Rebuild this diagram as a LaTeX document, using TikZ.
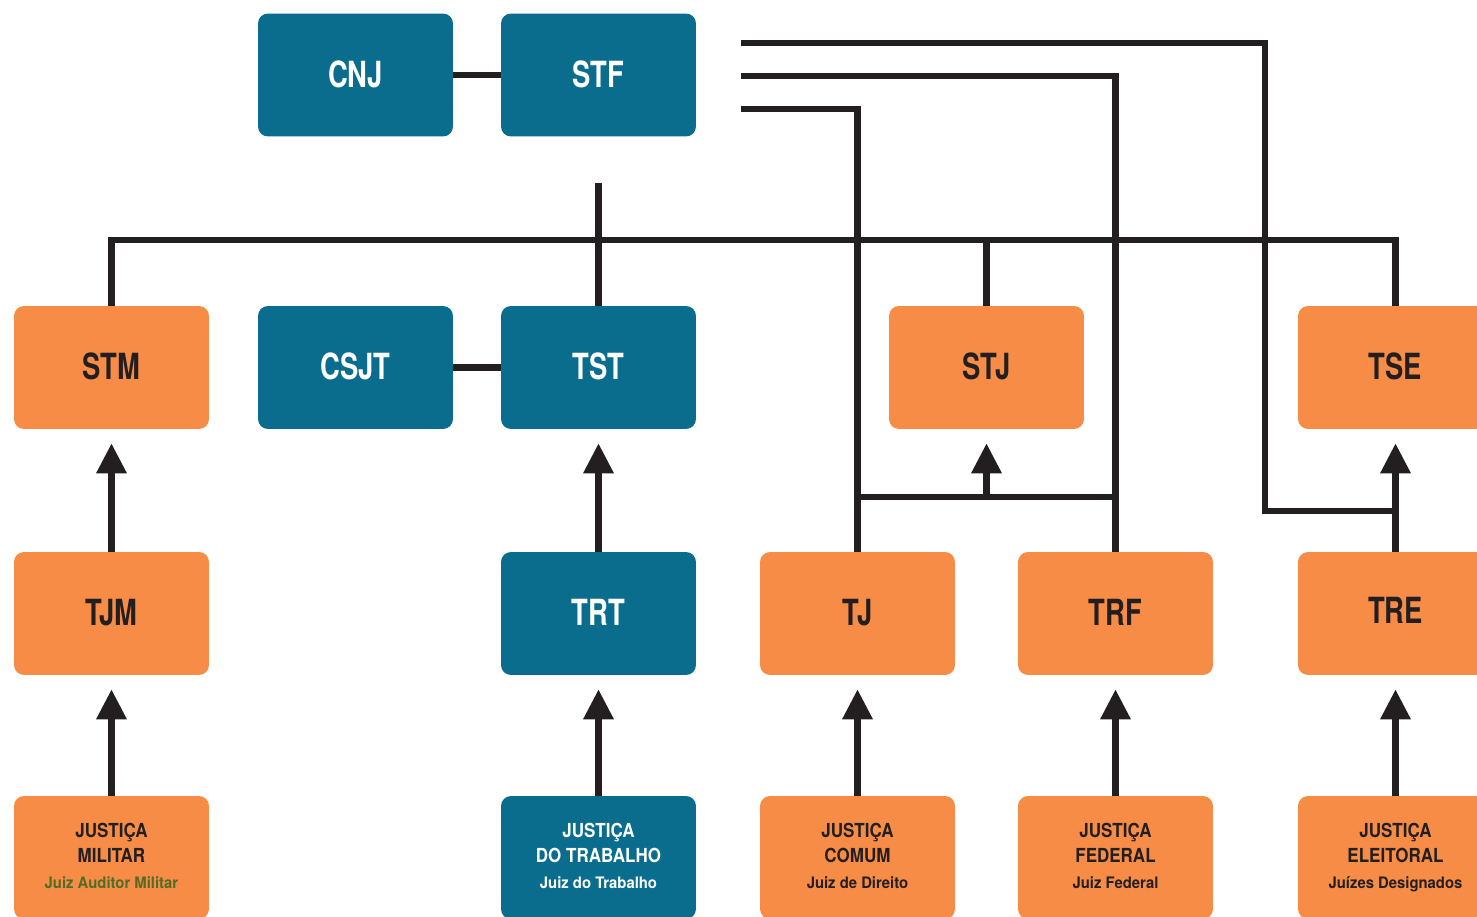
\documentclass[tikz,border=0pt]{standalone}
\usepackage{fontspec}
\setmainfont{TeX Gyre Heros}
\newfontfamily\titlef[FakeStretch=0.76]{TeX Gyre Heros}
\newfontfamily\subf[FakeStretch=0.88]{TeX Gyre Heros}
\newfontfamily\smallf[FakeStretch=0.94]{TeX Gyre Heros}
\usetikzlibrary{arrows.meta,calc}
\definecolor{teal}{HTML}{0A6D8E}
\definecolor{orng}{HTML}{F68C46}
\definecolor{dark}{HTML}{231F20}
\definecolor{jgreen}{HTML}{4F6D27}
\tikzset{
  box/.style={rectangle, rounded corners=0.2cm, minimum width=3.9cm, minimum height=2.46cm, inner sep=0pt, align=center},
  tealbox/.style={box, fill=teal, text=white},
  orngbox/.style={box, fill=orng, text=dark},
  title/.style={font=\titlef\bfseries\fontsize{20.5}{24}\selectfont},
  sub/.style={font=\subf\bfseries\fontsize{11}{14.7}\selectfont},
  ln/.style={draw=dark, line width=0.13cm, line join=miter},
  arr/.style={ln, -{Triangle[width=0.58cm,length=0.6cm]}, shorten >=0.28cm},
}
\newcommand{\smalltxt}[1]{{\smallf\bfseries\fontsize{9}{14.7}\selectfont\vphantom{Jíg}#1}}
\newcommand{\ttl}[1]{\raisebox{0.04cm}{#1}}
\begin{document}
\begin{tikzpicture}[x=0.02cm, y=-0.02cm]
\path[use as bounding box, clip] (0,0) rectangle (1477,916);
% nodes
\node[tealbox, title] (CNJ) at (355.5,75) {\ttl{CNJ}};
\node[tealbox, title] (STF) at (598.5,75) {\ttl{STF}};
\node[orngbox, title] (STM) at (111.5,367.5) {\ttl{STM}};
\node[tealbox, title] (CSJT) at (355.5,367.5) {\ttl{CSJT}};
\node[tealbox, title] (TST) at (598.5,367.5) {\ttl{TST}};
\node[orngbox, title] (STJ) at (986.5,367.5) {\ttl{STJ}};
\node[orngbox, title] (TSE) at (1395.5,367.5) {\ttl{TSE}};
\node[orngbox, title] (TJM) at (111.5,613.5) {\ttl{TJM}};
\node[tealbox, title] (TRT) at (598.5,613.5) {\ttl{TRT}};
\node[orngbox, title] (TJ) at (857.5,613.5) {\ttl{TJ}};
\node[orngbox, title] (TRF) at (1115.5,613.5) {\ttl{TRF}};
\node[orngbox, title] (TRE) at (1395.5,613.5) {\raisebox{0.13cm}{TRE}};
\node[orngbox, sub] (JM) at (111.5,857.5) {JUSTIÇA\\MILITAR\\\smalltxt{\color{jgreen}Juiz Auditor Militar}};
\node[tealbox, sub] (JT) at (598.5,857.5) {JUSTIÇA\\DO TRABALHO\\\smalltxt{Juiz do Trabalho}};
\node[orngbox, sub] (JC) at (857.5,857.5) {JUSTIÇA\\COMUM\\\smalltxt{Juiz de Direito}};
\node[orngbox, sub] (JF) at (1115.5,857.5) {JUSTIÇA\\FEDERAL\\\smalltxt{Juiz Federal}};
\node[orngbox, sub] (JE) at (1395.5,857.5) {JUSTIÇA\\ELEITORAL\\\smalltxt{Juízes Designados}};
% coordinates
\coordinate (s1) at (741,43);
\coordinate (s2) at (741,76);
\coordinate (s3) at (741,109);
\coordinate (h) at (598.5,183);
\coordinate (bus) at (0,240);
\coordinate (k1) at (1265,511);
\coordinate (jn) at (0,497);
% connectors
\draw[ln] (CNJ) -- (STF);
\draw[ln] (CSJT) -- (TST);
\draw[ln] (h) -- (TST.north);
\draw[ln] (STM.north) |- (bus -| TSE.north) -- (TSE.north);
\draw[ln] (bus -| STJ.north) -- (STJ.north);
\draw[ln] (s1) -| (k1) -- (k1 -| TRE.north);
\draw[ln] (s2) -| (TRF.north);
\draw[ln] (s3) -| (TJ.north);
\draw[ln] (jn -| TJ.north) -- (jn -| TRF.north);
\draw[arr] (jn -| STJ.south) -- (STJ.south);
\draw[arr] (TJM.north) -- (STM.south);
\draw[arr] (TRT.north) -- (TST.south);
\draw[arr] (TRE.north) -- (TSE.south);
\draw[arr] (JM.north) -- (TJM.south);
\draw[arr] (JT.north) -- (TRT.south);
\draw[arr] (JC.north) -- (TJ.south);
\draw[arr] (JF.north) -- (TRF.south);
\draw[arr] (JE.north) -- (TRE.south);
\end{tikzpicture}
\end{document}
